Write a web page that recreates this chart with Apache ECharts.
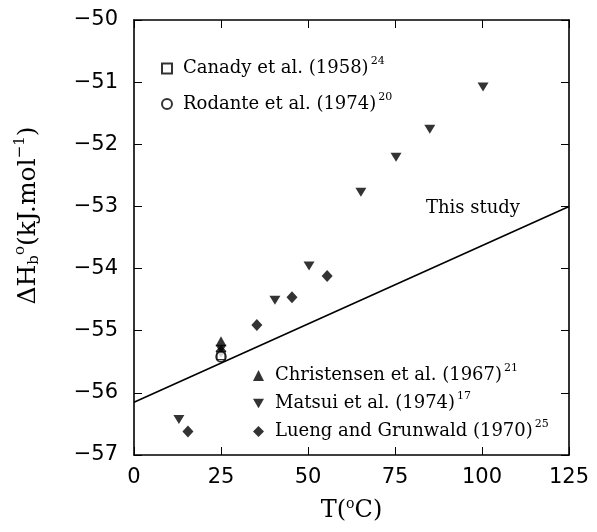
<!DOCTYPE html>
<html>
<head>
<meta charset="utf-8">
<script src="https://cdn.jsdelivr.net/npm/echarts@6/dist/echarts.min.js"></script>
<style>
html,body{margin:0;padding:0;background:#fff;}
#c{width:597px;height:532px;}
</style>
</head>
<body>
<div id="c"></div>
<script>
// ---- data ----
const xTickLabels = ['0','25','50','75','100','125'];
const yTickLabels = ['-57','-56','-55','-54','-53','-52','-51','-50'];

const canadyT = [25];
const canadyH = [-55.40];
const rodanteT = [25];
const rodanteH = [-55.42];
const christensenT = [25];
const christensenH = [-55.17];
const matsuiT = [12.9, 25, 40.5, 50.3, 65.2, 75.3, 85.0, 100.3];
const matsuiH = [-56.43, -55.30, -54.51, -53.96, -52.77, -52.21, -51.76, -51.08];
const luengT = [15.5, 25, 35.3, 45.4, 55.5];
const luengH = [-56.62, -55.33, -54.91, -54.46, -54.12];
const studyT = [0, 125];
const studyH = [-56.15, -53.00];
const studyLabelAt = [97.4, -53.03];

const names = {
  canady: 'Canady et al. (1958)',
  rodante: 'Rodante et al. (1974)',
  christensen: 'Christensen et al. (1967)',
  matsui: 'Matsui et al. (1974)',
  lueng: 'Lueng and Grunwald (1970)'
};
const refNums = {};
refNums[names.canady] = '24';
refNums[names.rodante] = '20';
refNums[names.christensen] = '21';
refNums[names.matsui] = '17';
refNums[names.lueng] = '25';

const zip = (a, b) => a.map((v, i) => [v, b[i]]);
const SERIF = 'DejaVu Serif, Liberation Serif, serif';
const SANS = 'DejaVu Sans, Liberation Sans, sans-serif';
const downTri = 'path://M0,0L10,0L5,8.7Z';

const chart = echarts.init(document.getElementById('c'));

const axisLineStyle = {color: '#000', width: 1.6};
const legendText = {
  fontFamily: SERIF, fontSize: 18, color: '#000', padding: [0, 0, 0, 6],
  rich: {
    n: {fontFamily: SERIF, fontSize: 18, color: '#000'},
    s: {fontFamily: SERIF, fontSize: 11, color: '#000', padding: [0, 0, 14, 2]}
  }
};
const legendFmt = n => '{n|' + n + '}{s|' + refNums[n] + '}';

const option = {
  animation: false,
  backgroundColor: '#fff',
  grid: {left: 134, right: 28, top: 20, bottom: 77, show: false},
  xAxis: [{
    type: 'value', min: 0, max: 125, interval: 25,
    axisLine: {show: true, lineStyle: axisLineStyle},
    axisTick: {show: true, inside: true, length: 8, lineStyle: {color: '#000', width: 1}},
    splitLine: {show: false},
    axisLabel: {fontFamily: SANS, fontSize: 21, color: '#000', margin: 12,
      formatter: (v) => xTickLabels[Math.round(v / 25)]},
    name: 'T({o|o}C)',
    nameLocation: 'middle', nameGap: 42,
    nameTextStyle: {fontFamily: SERIF, fontSize: 24, color: '#000',
      rich: {o: {fontFamily: SERIF, fontSize: 14, color: '#000', padding: [0, 0, 14, 0]}}}
  }, {
    type: 'value', min: 0, max: 125, interval: 25, position: 'top',
    axisLine: {show: true, onZero: false, lineStyle: axisLineStyle},
    axisTick: {show: true, inside: true, length: 8, lineStyle: {color: '#000', width: 1}},
    axisLabel: {show: false}, splitLine: {show: false}
  }],
  yAxis: [{
    type: 'value', min: -57, max: -50, interval: 1,
    axisLine: {show: true, lineStyle: axisLineStyle},
    axisTick: {show: true, inside: true, length: 8, lineStyle: {color: '#000', width: 1}},
    splitLine: {show: false},
    axisLabel: {fontFamily: SANS, fontSize: 21, color: '#000', margin: 16,
      formatter: (v) => yTickLabels[Math.round(v + 57)].replace('-', '\u2212')},
    name: '\u0394H{b|b}{o|o}(kJ.mol{o|\u22121})',
    nameLocation: 'middle', nameGap: 90,
    nameTextStyle: {fontFamily: SERIF, fontSize: 25, color: '#000', padding: [0, 0, 0, 44],
      rich: {
        b: {fontFamily: SERIF, fontSize: 15, color: '#000', padding: [12, 0, 0, 0]},
        o: {fontFamily: SERIF, fontSize: 15, color: '#000', padding: [0, 0, 16, 0]}
      }}
  }, {
    type: 'value', min: -57, max: -50, interval: 1, position: 'right',
    axisLine: {show: true, onZero: false, lineStyle: axisLineStyle},
    axisTick: {show: true, inside: true, length: 8, lineStyle: {color: '#000', width: 1}},
    axisLabel: {show: false}, splitLine: {show: false}
  }],
  legend: [{
    orient: 'vertical', left: 156, top: 51, itemGap: 14,
    itemWidth: 10, itemHeight: 10,
    data: [names.canady, names.rodante],
    formatter: legendFmt, textStyle: legendText
  }, {
    orient: 'vertical', left: 248, top: 358, itemGap: 6.5,
    itemWidth: 11, itemHeight: 11,
    data: [names.christensen, names.matsui, names.lueng],
    formatter: legendFmt, textStyle: legendText
  }],
  series: [{
    name: 'This study', type: 'line', showSymbol: false, symbol: 'none',
    data: zip(studyT, studyH), lineStyle: {color: '#000', width: 1.6},
    silent: true,
    markPoint: {
      symbol: 'circle', symbolSize: 0,
      data: [{coord: studyLabelAt, value: 'This study'}],
      label: {show: true, position: 'inside', formatter: 'This study',
        fontFamily: SERIF, fontSize: 18, color: '#000'}
    }
  }, {
    name: names.lueng, type: 'scatter', symbol: 'diamond', symbolSize: [11, 12],
    data: zip(luengT, luengH), itemStyle: {color: '#000'}
  }, {
    name: names.matsui, type: 'scatter', symbol: downTri, symbolSize: [11, 9],
    data: zip(matsuiT, matsuiH), itemStyle: {color: '#000'}
  }, {
    name: names.christensen, type: 'scatter', symbol: 'triangle', symbolSize: [11, 10],
    data: zip(christensenT, christensenH), itemStyle: {color: '#000'}
  }, {
    name: names.canady, type: 'scatter', symbol: 'rect', symbolSize: 8,
    data: zip(canadyT, canadyH),
    itemStyle: {color: '#fff', borderColor: '#000', borderWidth: 1.3}
  }, {
    name: names.rodante, type: 'scatter', symbol: 'circle', symbolSize: 10,
    data: zip(rodanteT, rodanteH),
    itemStyle: {color: 'rgba(255,255,255,0)', borderColor: '#000', borderWidth: 1.5}
  }]
};
chart.setOption(option);
</script>
</body>
</html>
